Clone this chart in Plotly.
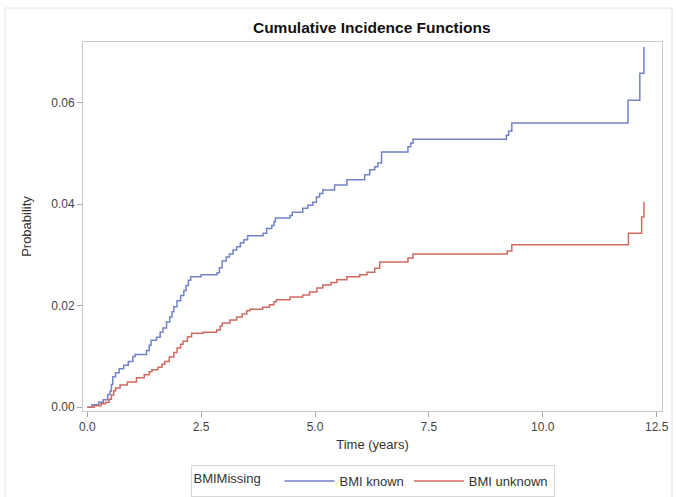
import plotly.graph_objects as go

# Event times (years) and cumulative incidence after each step
known_t = [0, 0.10, 0.25, 0.35, 0.45, 0.50, 0.53, 0.56, 0.62, 0.70, 0.80, 0.90, 1.00, 1.05,
           1.30, 1.36, 1.40, 1.52, 1.60, 1.66, 1.74, 1.81, 1.86, 1.90, 1.97, 2.05, 2.12, 2.17,
           2.22, 2.27, 2.50, 2.85, 2.90, 2.96, 3.05, 3.12, 3.20, 3.28, 3.36, 3.44, 3.52, 3.86,
           3.94, 4.05, 4.10, 4.13, 4.45, 4.50, 4.73, 4.84, 4.95, 5.03, 5.10, 5.17, 5.43, 5.70,
           6.09, 6.20, 6.31, 6.38, 6.46, 7.04, 7.10, 7.15, 9.20, 9.25, 9.32, 11.87, 12.13, 12.22]
known_p = [0, 0.0005, 0.0010, 0.0015, 0.0025, 0.0032, 0.0045, 0.0060, 0.0068, 0.0076, 0.0083,
           0.0090, 0.0100, 0.0104, 0.0112, 0.0122, 0.0132, 0.0138, 0.0148, 0.0156, 0.0168,
           0.0178, 0.0188, 0.0198, 0.0210, 0.0220, 0.0230, 0.0240, 0.0250, 0.0257, 0.0261,
           0.0265, 0.0275, 0.0288, 0.0296, 0.0302, 0.0310, 0.0316, 0.0324, 0.0330, 0.0338,
           0.0343, 0.0352, 0.0358, 0.0366, 0.0373, 0.0378, 0.0384, 0.0392, 0.0398, 0.0404,
           0.0414, 0.0421, 0.0428, 0.0438, 0.0448, 0.0458, 0.0468, 0.0474, 0.0481, 0.0503,
           0.0513, 0.0520, 0.0528, 0.0536, 0.0544, 0.0560, 0.0605, 0.0658, 0.0710]

unknown_t = [0, 0.15, 0.30, 0.40, 0.48, 0.53, 0.58, 0.62, 0.72, 0.88, 1.08, 1.25, 1.36, 1.42,
             1.55, 1.64, 1.70, 1.80, 1.90, 1.97, 2.05, 2.10, 2.20, 2.29, 2.55, 2.84, 2.92, 2.96,
             3.13, 3.28, 3.40, 3.50, 3.57, 3.85, 4.00, 4.10, 4.15, 4.45, 4.73, 4.88, 5.04, 5.17,
             5.35, 5.48, 5.70, 5.98, 6.14, 6.31, 6.42, 7.04, 7.15, 9.22, 9.32, 11.88, 12.17, 12.22]
unknown_p = [0, 0.0003, 0.0007, 0.0010, 0.0016, 0.0024, 0.0032, 0.0038, 0.0044, 0.0050, 0.0058,
             0.0064, 0.0070, 0.0074, 0.0079, 0.0085, 0.0090, 0.0099, 0.0108, 0.0117, 0.0124,
             0.0130, 0.0139, 0.0146, 0.0148, 0.0152, 0.0160, 0.0166, 0.0172, 0.0178, 0.0184,
             0.0190, 0.0193, 0.0197, 0.0202, 0.0208, 0.0212, 0.0217, 0.0221, 0.0227, 0.0235,
             0.0241, 0.0246, 0.0251, 0.0257, 0.0261, 0.0266, 0.0274, 0.0286, 0.0294, 0.0302,
             0.0308, 0.0320, 0.0343, 0.0375, 0.0405]

x_ticks = [0, 2.5, 5.0, 7.5, 10.0, 12.5]
x_tick_labels = ["0.0", "2.5", "5.0", "7.5", "10.0", "12.5"]
y_ticks = [0, 0.02, 0.04, 0.06]
y_tick_labels = ["0.00", "0.02", "0.04", "0.06"]

FONT = "Liberation Sans, Arial, sans-serif"

fig = go.Figure()
fig.add_trace(go.Scatter(x=known_t, y=known_p, mode="lines", line_shape="hv",
                         line=dict(color="#7282C8", width=1.5), name="BMI known"))
fig.add_trace(go.Scatter(x=unknown_t, y=unknown_p, mode="lines", line_shape="hv",
                         line=dict(color="#D06A60", width=1.5), name="BMI unknown"))

fig.update_layout(
    width=676, height=497,
    margin=dict(l=83, r=14, t=42, b=86, autoexpand=False),
    paper_bgcolor="white", plot_bgcolor="white",
    font=dict(family=FONT, size=12, color="#333333"),
    title=dict(text="<b>Cumulative Incidence Functions</b>", x=0.55, xanchor="center",
               y=0.945, yanchor="middle", font=dict(size=15.5, color="#111111")),
    xaxis=dict(range=[-0.094, 12.617], tickvals=x_ticks, ticktext=x_tick_labels,
               showgrid=False, zeroline=False, showline=True, mirror=True,
               linecolor="#c8c8c8", linewidth=1, ticks="outside", ticklen=5,
               tickcolor="#a8a8a8", tickfont=dict(size=12, color="#444444"),
               title=dict(text="Time (years)", font=dict(size=13, color="#333333"), standoff=6)),
    yaxis=dict(range=[-0.00073, 0.07195], tickvals=y_ticks, ticktext=y_tick_labels,
               showgrid=False, zeroline=False, showline=True, mirror=True,
               linecolor="#c8c8c8", linewidth=1, ticks="outside", ticklen=5,
               tickcolor="#a8a8a8", tickfont=dict(size=12, color="#444444"),
               title=dict(text="Probability", font=dict(size=13, color="#333333"), standoff=16)),
    legend=dict(orientation="h", x=0.5, xanchor="center", y=-0.1463, yanchor="top",
                bordercolor="#d8d8d8", borderwidth=1, font=dict(size=13, color="#333333"),
                title=dict(text="BMIMissing   ", side="left", font=dict(size=13, color="#333333")),
                itemwidth=50),
    showlegend=True,
)

fig.add_shape(type="rect", xref="paper", yref="paper",
              x0=-0.1347, x1=1.0173, y0=-0.245, y1=1.0921,
              line=dict(color="#e2e2e2", width=1), fillcolor="rgba(0,0,0,0)", layer="below")

fig.write_html("out.html")
